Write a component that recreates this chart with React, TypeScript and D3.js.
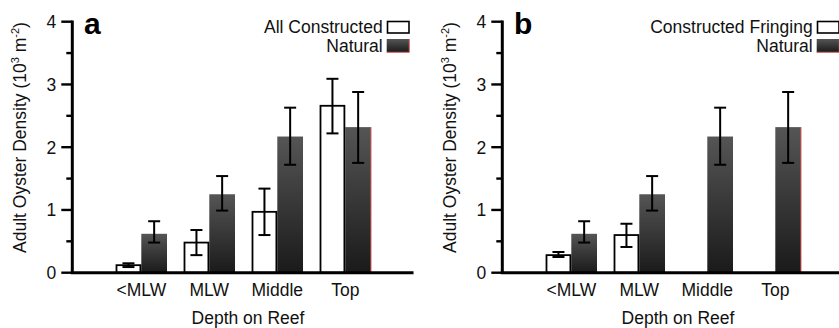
import React from "react";
import * as d3 from "d3";

// 深度カテゴリ
const depths = ["<MLW", "MLW", "Middle", "Top"];

// パネル a: All Constructed
const allConstructed = [0.12, 0.48, 0.97, 2.66];
const allConstructedLo = [0.09, 0.28, 0.6, 2.22];
const allConstructedHi = [0.15, 0.68, 1.34, 3.09];

// パネル b: Constructed Fringing (Middle / Top は無し)
const fringing: (number | null)[] = [0.28, 0.6, null, null];
const fringingLo: (number | null)[] = [0.25, 0.41, null, null];
const fringingHi: (number | null)[] = [0.33, 0.78, null, null];

// 両パネル共通: Natural
const natural = [0.62, 1.25, 2.17, 2.32];
const naturalLo = [0.48, 0.99, 1.72, 1.75];
const naturalHi = [0.82, 1.54, 2.63, 2.88];

const majorTicks = [0, 1, 2, 3, 4];
const minorTicks = [0.5, 1.5, 2.5, 3.5];

const FONT = "'Liberation Sans', Arial, Helvetica, sans-serif";

const y = d3.scaleLinear().domain([0, 4]).range([272.7, 21.7]);
const x = d3
  .scaleBand()
  .domain(depths)
  .range([107.3, 379.3])
  .paddingInner(0.244)
  .paddingOuter(0.122);
const sub = d3.scaleBand().domain(["c", "n"]).range([0, x.bandwidth()]);

const axisX = 72.3;

interface PanelProps {
  label: string;
  legendName: string;
  cons: (number | null)[];
  consLo: (number | null)[];
  consHi: (number | null)[];
  offset: number;
}

const ErrorBar: React.FC<{ cx: number; lo: number; hi: number }> = ({ cx, lo, hi }) => (
  <g stroke="#000" strokeWidth={2}>
    <line x1={cx} x2={cx} y1={y(lo)} y2={y(hi)} />
    <line x1={cx - 6} x2={cx + 6} y1={y(lo)} y2={y(lo)} />
    <line x1={cx - 6} x2={cx + 6} y1={y(hi)} y2={y(hi)} />
  </g>
);

const Panel: React.FC<PanelProps> = ({ label, legendName, cons, consLo, consHi, offset }) => {
  const bw = sub.bandwidth();
  return (
    <g transform={`translate(${offset},0)`} fontFamily={FONT}>
      {/* Natural バー */}
      {depths.map((d, i) => {
        const x0 = (x(d) as number) + (sub("n") as number);
        return (
          <g key={"n" + d}>
            <rect x={x0} y={y(natural[i])} width={bw} height={y(0) - y(natural[i])} fill="url(#natGrad)" />
            {i === depths.length - 1 && (
              <line x1={x0 + bw} x2={x0 + bw} y1={y(natural[i])} y2={y(0)} stroke="#e06060" strokeWidth={1} />
            )}
          </g>
        );
      })}
      {/* Constructed バー */}
      {depths.map((d, i) => {
        const v = cons[i];
        if (v === null) return null;
        const x0 = (x(d) as number) + (sub("c") as number);
        return (
          <rect
            key={"c" + d}
            x={x0 + 0.9}
            y={y(v)}
            width={bw - 1.8}
            height={y(0) - y(v)}
            fill="#fff"
            stroke="#000"
            strokeWidth={1.8}
          />
        );
      })}
      {/* エラーバー */}
      {depths.map((d, i) => {
        const v = cons[i];
        const cx = (x(d) as number) + (sub("c") as number) + bw / 2;
        return v === null ? null : <ErrorBar key={"ec" + d} cx={cx} lo={consLo[i] as number} hi={consHi[i] as number} />;
      })}
      {depths.map((d, i) => {
        const cx = (x(d) as number) + (sub("n") as number) + bw / 2;
        return <ErrorBar key={"en" + d} cx={cx} lo={naturalLo[i]} hi={naturalHi[i]} />;
      })}

      {/* 軸 */}
      <line x1={axisX - 1.5} x2={413.5} y1={y(0)} y2={y(0)} stroke="#000" strokeWidth={3} />
      <line x1={axisX} x2={axisX} y1={y(4) - 1.2} y2={y(0)} stroke="#000" strokeWidth={3} />
      {majorTicks.map((t) => (
        <g key={"mt" + t}>
          <line x1={axisX - 11} x2={axisX} y1={y(t)} y2={y(t)} stroke="#000" strokeWidth={2.4} />
          <text x={axisX - 16} y={y(t) + 6.3} textAnchor="end" fontSize={17.5} fill="#111">
            {t}
          </text>
        </g>
      ))}
      {minorTicks.map((t) => (
        <line key={"mn" + t} x1={axisX - 6} x2={axisX} y1={y(t)} y2={y(t)} stroke="#000" strokeWidth={2.4} />
      ))}
      {depths.map((d) => (
        <text
          key={"xl" + d}
          x={(x(d) as number) + x.bandwidth() / 2}
          y={296}
          textAnchor="middle"
          fontSize={17.5}
          fill="#111"
        >
          {d}
        </text>
      ))}
      <text x={248} y={324} textAnchor="middle" fontSize={17.5} fill="#111">
        Depth on Reef
      </text>
      <text transform="translate(26,137.5) rotate(-90)" textAnchor="middle" fontSize={17.5} fill="#111">
        Adult Oyster Density (10
        <tspan fontSize={11} dy={-7}>
          3
        </tspan>
        <tspan dy={7}> m</tspan>
        <tspan fontSize={11} dy={-7}>
          -2
        </tspan>
        <tspan dy={7}>)</tspan>
      </text>

      {/* パネルラベル */}
      <text x={84} y={33.5} fontSize={30} fontWeight="bold" fill="#000">
        {label}
      </text>

      {/* 凡例 */}
      <text x={382.7} y={32.5} textAnchor="end" fontSize={17.5} fill="#111">
        {legendName}
      </text>
      <rect x={387.5} y={21.5} width={21.5} height={11.5} fill="#fff" stroke="#000" strokeWidth={1.6} />
      <text x={382.7} y={51.5} textAnchor="end" fontSize={17.5} fill="#111">
        Natural
      </text>
      <rect x={386.7} y={39} width={22.6} height={13.3} fill="url(#natGrad)" />
      <line x1={409.3} x2={409.3} y1={39} y2={52.3} stroke="#e06060" strokeWidth={1} />
      <line x1={386.7} x2={409.3} y1={52.3} y2={52.3} stroke="#e06060" strokeWidth={1} />
    </g>
  );
};

const App: React.FC = () => {
  return (
    <div style={{ position: "absolute", left: 0, top: 0 }}>
      <svg width={839} height={328} style={{ display: "block", background: "#fff" }}>
        <defs>
          <linearGradient id="natGrad" x1="0" y1="0" x2="0" y2="1">
            <stop offset="0%" stopColor="#555555" />
            <stop offset="100%" stopColor="#1a1a1a" />
          </linearGradient>
        </defs>
        <Panel
          label="a"
          legendName="All Constructed"
          cons={allConstructed}
          consLo={allConstructedLo}
          consHi={allConstructedHi}
          offset={0}
        />
        <Panel
          label="b"
          legendName="Constructed Fringing"
          cons={fringing}
          consLo={fringingLo}
          consHi={fringingHi}
          offset={430}
        />
      </svg>
    </div>
  );
};

export default App;
